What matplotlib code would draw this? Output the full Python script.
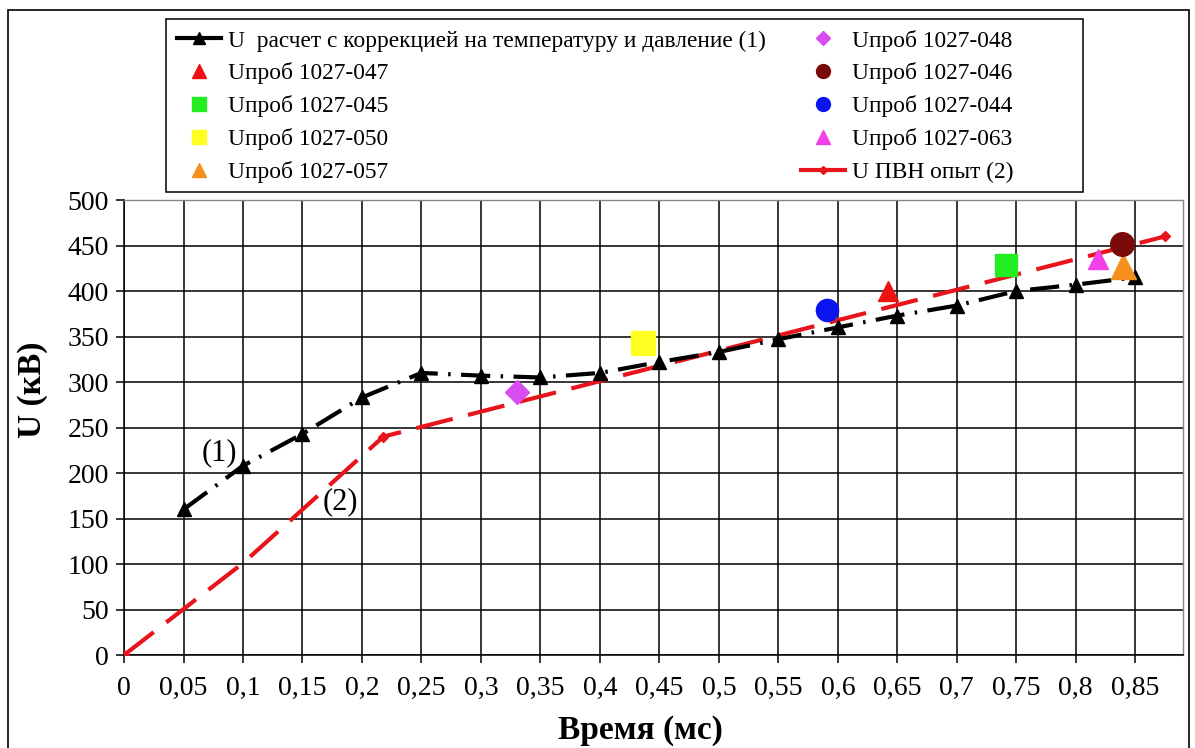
import matplotlib
matplotlib.use('Agg')
import matplotlib.pyplot as plt
from matplotlib.lines import Line2D
from matplotlib.patches import Rectangle

plt.rcParams['font.family'] = ['Liberation Serif', 'DejaVu Serif']

# расчетная кривая (1)
t_calc = [0.05, 0.1, 0.15, 0.2, 0.25, 0.3, 0.35, 0.4, 0.45, 0.5, 0.55,
          0.6, 0.65, 0.7, 0.75, 0.8, 0.85]
u_calc = [160, 208, 243, 283, 310, 307, 305, 310, 322, 333, 347,
          360, 373, 384, 400, 407, 415]

# опыт ПВН (2)
t_exp = [0, 0.1, 0.218, 0.875]
u_exp = [0, 101, 240, 460]

# отдельные пробои
probe_names = ['1027-047', '1027-045', '1027-050', '1027-057',
               '1027-048', '1027-046', '1027-044', '1027-063']
probe_t = [0.642, 0.741, 0.436, 0.840, 0.330, 0.839, 0.591, 0.819]
probe_u = [400, 429, 343, 427, 289, 452, 379, 435]
probe_markers = ['^', 's', 's', '^', 'D', 'o', 'o', '^']
probe_colors = ['#ee1111', '#22ee22', '#ffff22', '#f5901e',
                '#d84cf2', '#7a0a0a', '#0a14ee', '#f040e8']
probe_sizes = [15, 16, 17, 18, 12, 17, 16, 15]
legend_sizes = [10, 9.5, 9.5, 10, 7, 10, 10, 10]

x_ticks = [0, 0.05, 0.1, 0.15, 0.2, 0.25, 0.3, 0.35, 0.4, 0.45, 0.5,
           0.55, 0.6, 0.65, 0.7, 0.75, 0.8, 0.85]
x_labels = ['0', '0,05', '0,1', '0,15', '0,2', '0,25', '0,3', '0,35', '0,4',
            '0,45', '0,5', '0,55', '0,6', '0,65', '0,7', '0,75', '0,8', '0,85']
y_ticks = [0, 50, 100, 150, 200, 250, 300, 350, 400, 450, 500]

calc_label = 'U  расчет с коррекцией на температуру и давление (1)'
exp_label = 'U ПВН опыт (2)'

fig = plt.figure(figsize=(11.95, 7.48), dpi=100)
ax = fig.add_axes([0.1038, 0.1243, 0.886, 0.6083])

ax.plot(t_calc, u_calc, color='black', lw=3.0,
        linestyle=(0, (7, 2.5, 0.6, 2.5)), marker='^',
        markersize=9.5, markerfacecolor='black', zorder=4)
ax.plot(t_exp, u_exp, color='#e8141c', lw=3.0,
        linestyle=(0, (9, 3.8)), marker='D', markersize=5,
        markevery=[0, 2, 3], zorder=3)

for t, u, m, c, s in zip(probe_t, probe_u, probe_markers, probe_colors,
                         probe_sizes):
    ax.plot([t], [u], linestyle='none', marker=m, color=c,
            markersize=s, zorder=5)

ax.text(0.0798, 222, '(1)', fontsize=22, ha='center', va='center')
ax.text(0.1815, 168, '(2)', fontsize=22, ha='center', va='center')

ax.set_xlim(0, 0.89)
ax.set_ylim(0, 500)
ax.set_xticks(x_ticks)
ax.set_xticklabels(x_labels)
ax.set_yticks(y_ticks)
ax.tick_params(labelsize=20, length=6, width=1.1, color='black')
ax.tick_params(axis='x', pad=9)
ax.tick_params(axis='y', pad=5)
ax.grid(True, color='black', lw=1.1)
ax.set_axisbelow(True)
for side in ['left', 'bottom']:
    ax.spines[side].set_linewidth(1.1)
for side in ['top', 'right']:
    ax.spines[side].set_color('#888888')
    ax.spines[side].set_linewidth(1.0)

fig.text(640 / 1195, 1 - 731 / 748, 'Время (мс)', fontsize=24,
         fontweight='bold', ha='center', va='center')
fig.text(33 / 1195, 1 - 390 / 748, 'U (кВ)', fontsize=24,
         fontweight='bold', ha='center', va='center', rotation=90)

# легенда: линии показываем сплошными, маркеры уменьшенные
calc_handle = Line2D([], [], color='black', lw=3.0, marker='^',
                     markersize=8, label=calc_label)
exp_handle = Line2D([], [], color='#e8141c', lw=3.0, marker='D',
                    markersize=4.5, label=exp_label)
probe_handles = []
for name, m, c, s in zip(probe_names, probe_markers, probe_colors,
                         legend_sizes):
    probe_handles.append(Line2D([], [], linestyle='none', marker=m, color=c,
                                markersize=s, label='Uпроб ' + name))

handles = [calc_handle] + probe_handles + [exp_handle]
fig.legend(handles=handles, ncol=2, fontsize=16.8,
           loc='upper left', bbox_to_anchor=(166 / 1195, 1 - 19 / 748),
           borderaxespad=0, frameon=False,
           handlelength=1.9, handletextpad=0.3, labelspacing=0.47,
           columnspacing=1.5, borderpad=0.45)

fig.patches.append(Rectangle((166 / 1195, 1 - 192 / 748),
                             (1083 - 166) / 1195, (192 - 19) / 748,
                             fill=False, edgecolor='black', lw=1.1,
                             transform=fig.transFigure, figure=fig))
fig.patches.append(Rectangle((0.007, -0.01), 0.988, 0.997, fill=False,
                             edgecolor='black', lw=1.2,
                             transform=fig.transFigure, figure=fig))

fig.savefig('out.png', dpi=100)
